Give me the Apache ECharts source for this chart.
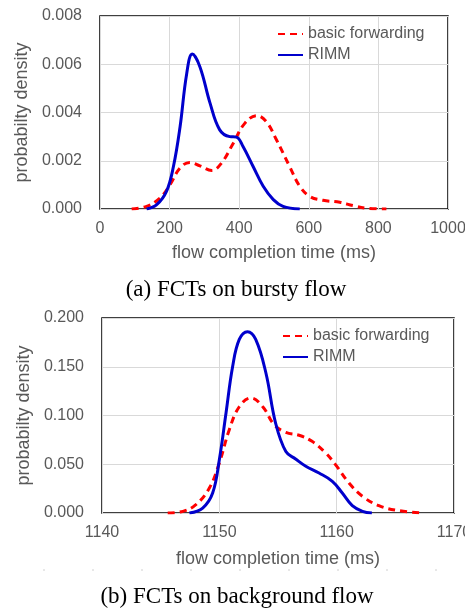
<!DOCTYPE html>
<html>
<head>
<meta charset="utf-8">
<script src="https://cdn.jsdelivr.net/npm/echarts@6/dist/echarts.min.js"></script>
<style>
html,body{margin:0;padding:0;background:#fff;}
#c{width:465px;height:608px;}
</style>
</head>
<body>
<div id="c"></div>
<script>
// ---- Data: (a) bursty flow ----
const burstyXTicks = [0, 200, 400, 600, 800, 1000];
const burstyYTicks = [0, 0.002, 0.004, 0.006, 0.008];
const burstyBasic = [
  [91, 0], [134, 0.00011], [172, 0.00045], [201, 0.0010], [230, 0.0017],
  [258, 0.00193], [287, 0.00179], [321, 0.0016], [349, 0.0019], [383, 0.00273],
  [416, 0.00355], [450, 0.00387], [478, 0.00362], [507, 0.00287], [545, 0.00176],
  [574, 0.00094], [603, 0.00052], [641, 0.00036], [689, 0.00028], [727, 0.00014],
  [766, 0.00003], [823, 0]
];
const burstyRIMM = [
  [134, 0], [163, 0.00018], [191, 0.00073], [211, 0.00176], [230, 0.0034],
  [249, 0.0056], [265, 0.00642], [287, 0.0059], [316, 0.0044], [344, 0.00328],
  [373, 0.0030], [392, 0.00298], [411, 0.00259], [440, 0.00176], [469, 0.00094],
  [498, 0.00039], [526, 0.00011], [574, 0]
];
// ---- Data: (b) background flow ----
const bgXTicks = [1140, 1150, 1160, 1170];
const bgYTicks = [0, 0.05, 0.1, 0.15, 0.2];
const bgBasic = [
  [1145.6, 0], [1146.9, 0.0017], [1148.0, 0.0085], [1149.15, 0.0256], [1150.0, 0.0513],
  [1150.85, 0.0855], [1151.7, 0.109], [1152.7, 0.118], [1153.7, 0.109], [1154.67, 0.0906],
  [1155.67, 0.0827], [1156.8, 0.0797], [1157.9, 0.0735], [1159.07, 0.0615], [1159.9, 0.0496],
  [1161.05, 0.0308], [1162.2, 0.0171], [1163.6, 0.0075], [1165.3, 0.0024], [1167.4, 0]
];
const bgRIMM = [
  [1147.45, 0], [1148.58, 0.0051], [1149.43, 0.0205], [1150.0, 0.0547], [1150.57, 0.1026],
  [1151.13, 0.150], [1151.7, 0.178], [1152.4, 0.186], [1153.1, 0.178], [1153.97, 0.1436],
  [1154.8, 0.092], [1155.67, 0.063], [1156.5, 0.0554], [1157.37, 0.0479], [1158.5, 0.041],
  [1159.63, 0.0325], [1160.48, 0.0205], [1161.33, 0.0075], [1162.2, 0.0017], [1163.0, 0]
];
const seriesNames = ['basic forwarding', 'RIMM'];
const xTitle = 'flow completion time (ms)';
const yTitle = 'probabilty density';
const captions = ['(a) FCTs on bursty flow', '(b) FCTs on background flow'];

const FONT = 'Liberation Sans, Arial, sans-serif';
const GRAY = '#595959';
const RED = '#ff0000';
const BLUE = '#0000cc';

function xAxisFor(gridIndex, ticks, gap) {
  return {
    type: 'value', gridIndex: gridIndex,
    min: ticks[0], max: ticks[ticks.length - 1], interval: ticks[1] - ticks[0],
    name: xTitle, nameLocation: 'middle', nameGap: gap,
    nameTextStyle: { color: GRAY, fontSize: 18, fontFamily: FONT },
    axisLine: { show: false }, axisTick: { show: false },
    axisLabel: { color: GRAY, fontSize: 16, fontFamily: FONT, margin: 12,
      formatter: v => String(v) },
    splitLine: { show: true, lineStyle: { color: '#d9d9d9', width: 1 } }
  };
}
function yAxisFor(gridIndex, ticks) {
  return {
    type: 'value', gridIndex: gridIndex,
    min: ticks[0], max: ticks[ticks.length - 1], interval: ticks[1] - ticks[0],
    name: yTitle, nameLocation: 'middle', nameGap: 68, nameRotate: 90,
    nameTextStyle: { color: GRAY, fontSize: 18, fontFamily: FONT },
    axisLine: { show: false }, axisTick: { show: false },
    axisLabel: { color: GRAY, fontSize: 16, fontFamily: FONT, margin: 18,
      formatter: v => v.toFixed(3) },
    splitLine: { show: true, lineStyle: { color: '#d9d9d9', width: 1 } }
  };
}
function lineSeries(name, data, idx, color, dashed) {
  return {
    name: name, type: 'line', data: data, smooth: 0.4,
    xAxisIndex: idx, yAxisIndex: idx, showSymbol: false, symbol: 'none',
    lineStyle: { color: color, width: 3, type: dashed ? [7, 5] : 'solid' },
    itemStyle: { color: color }, z: dashed ? 3 : 4
  };
}
function legendFor(left, top) {
  return {
    orient: 'vertical', left: left, top: top, itemWidth: 25, itemHeight: 14, itemGap: 5,
    data: seriesNames,
    itemStyle: { opacity: 0 },
    textStyle: { color: GRAY, fontSize: 16, fontFamily: FONT },
    selectedMode: false
  };
}

const chart = echarts.init(document.getElementById('c'), null, { renderer: 'canvas' });
chart.setOption({
  backgroundColor: '#ffffff',
  animation: false,
  grid: [
    { left: 100, top: 16, width: 348, height: 193, show: true, borderColor: '#000', borderWidth: 1.5, backgroundColor: 'transparent', outerBoundsMode: 'none', containLabel: false },
    { left: 102, top: 318, width: 352, height: 195, show: true, borderColor: '#000', borderWidth: 1.5, backgroundColor: 'transparent', outerBoundsMode: 'none', containLabel: false }
  ],
  xAxis: [xAxisFor(0, burstyXTicks, 35), xAxisFor(1, bgXTicks, 37)],
  yAxis: [yAxisFor(0, burstyYTicks), yAxisFor(1, bgYTicks)],
  legend: [legendFor(272, 21), legendFor(277, 323)],
  series: [
    lineSeries(seriesNames[0], burstyBasic, 0, RED, true),
    lineSeries(seriesNames[1], burstyRIMM, 0, BLUE, false),
    lineSeries(seriesNames[0], bgBasic, 1, RED, true),
    lineSeries(seriesNames[1], bgRIMM, 1, BLUE, false)
  ],
  graphic: [
    { type: 'text', x: 236, y: 290, style: { text: captions[0], font: '23px "Liberation Serif", "Times New Roman", serif', fill: '#000', textAlign: 'center', textVerticalAlign: 'middle' } },
    { type: 'text', x: 237, y: 597, style: { text: captions[1], font: '23px "Liberation Serif", "Times New Roman", serif', fill: '#000', textAlign: 'center', textVerticalAlign: 'middle' } },
    { type: 'line', shape: { x1: 43, y1: 570, x2: 437, y2: 570 }, style: { stroke: '#d0d0d0', lineWidth: 1, lineDash: [2, 47] } }
  ]
});
</script>
</body>
</html>
